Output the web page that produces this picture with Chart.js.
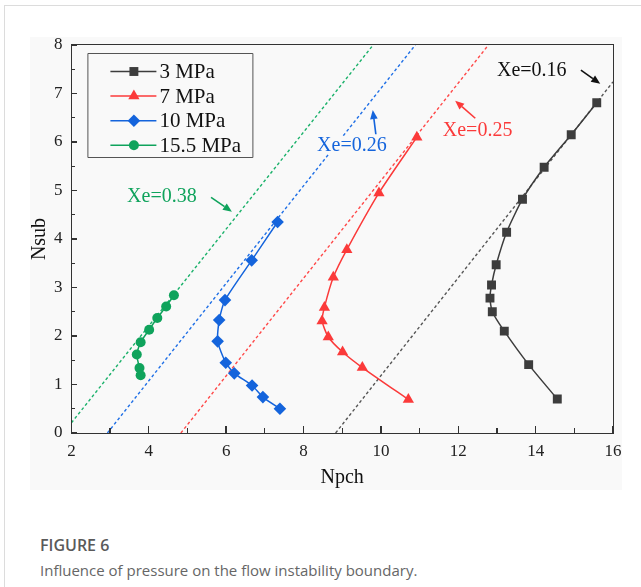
<!DOCTYPE html>
<html>
<head>
<meta charset="utf-8">
<script src="https://cdn.jsdelivr.net/npm/chart.js@4.4.0/dist/chart.umd.min.js"></script>
<style>
  body { margin: 0; background: #fff; width: 641px; height: 587px; overflow: hidden; position: relative; }
  #card { position: absolute; left: 4px; top: 5px; right: 0; bottom: 0; border-top: 1px solid #dcdcdc; border-left: 1px solid #dcdcdc; }
  #wrap { position: absolute; left: 30px; top: 37px; width: 592px; height: 453px; background: #f9f9f9; }
  #wrap canvas { position: absolute; left: 0; top: 0; }
  #frame { position: absolute; box-sizing: border-box; border: 1.6px solid #333; pointer-events: none; }
  .tick { position: absolute; background: #333; }
  .cap { position: absolute; left: 40px; font-family: "Open Sans", sans-serif; color: #5a5a5a; white-space: nowrap; }
</style>
</head>
<body>
<div id="card"></div>
<div id="wrap"><canvas id="chart" width="592" height="453"></canvas><div id="frame"></div></div>
<div class="cap" style="top:535px;font-size:16px;line-height:20px;font-weight:600;">FIGURE 6</div>
<div class="cap" style="top:560px;font-size:15px;line-height:20px;color:#666;">Influence of pressure on the flow instability boundary.</div>
<script>
// series (Npch, Nsub)
const seriesNames = ['3 MPa', '7 MPa', '10 MPa', '15.5 MPa'];
const p3x = [15.58, 14.92, 14.22, 13.66, 13.25, 12.98, 12.86, 12.82, 12.88, 13.19, 13.82, 14.56];
const p3y = [6.81, 6.15, 5.48, 4.82, 4.14, 3.47, 3.05, 2.78, 2.50, 2.10, 1.41, 0.70];
const p7x = [10.93, 9.95, 9.12, 8.77, 8.54, 8.48, 8.64, 9.01, 9.52, 10.71];
const p7y = [6.10, 4.95, 3.78, 3.21, 2.59, 2.31, 1.98, 1.67, 1.35, 0.69];
const p10x = [7.33, 6.66, 5.97, 5.82, 5.78, 5.99, 6.21, 6.67, 6.95, 7.39];
const p10y = [4.35, 3.56, 2.74, 2.33, 1.89, 1.45, 1.23, 0.98, 0.74, 0.50];
const p155x = [4.65, 4.45, 4.22, 4.01, 3.79, 3.69, 3.76, 3.79];
const p155y = [2.84, 2.61, 2.37, 2.13, 1.87, 1.62, 1.34, 1.19];

// constant quality lines (end points)
const xe016x = [8.83, 16], xe016y = [0, 7.24];
const xe025x = [4.83, 12.78], xe025y = [0, 8];
const xe026x = [2.93, 10.89], xe026y = [0, 8];
const xe038x = [2, 9.8], xe038y = [0.21, 8];

// annotations: label, text position, arrow tail, arrow head
const noteText = ['Xe=0.16', 'Xe=0.25', 'Xe=0.26', 'Xe=0.38'];
const noteX = [13.90, 12.50, 9.25, 4.34];
const noteY = [7.48, 6.25, 5.94, 4.89];
const arrowFromX = [15.17, 12.44, 9.87, 5.61];
const arrowFromY = [7.48, 6.49, 6.16, 4.86];
const arrowToX = [15.67, 11.92, 9.79, 6.15];
const arrowToY = [7.20, 6.85, 6.66, 4.56];

// axis range and ticks
const xRange = [2, 16];
const yRange = [0, 8];
const xMajor = [2, 4, 6, 8, 10, 12, 14, 16];
const xMinor = [3, 5, 7, 9, 11, 13, 15];
const yMajor = [0, 1, 2, 3, 4, 5, 6, 7, 8];
const yMinor = [0.5, 1.5, 2.5, 3.5, 4.5, 5.5, 6.5, 7.5];

const colors = ['#3d3d3d', '#fb3a3a', '#1464dc', '#0fa35c'];
const dashColors = ['#555555', '#ff4848', '#1f6fe6', '#1ab16a'];
const pointStyles = ['rect', 'triangle', 'rectRot', 'circle'];
const pointSizes = [6.3, 6.5, 6.3, 5];

function pts(xs, ys) { return xs.map((x, i) => ({ x: x, y: ys[i] })); }

const serif = '"Liberation Serif", "Times New Roman", serif';

let datasets = [];
[[xe016x, xe016y], [xe025x, xe025y], [xe026x, xe026y], [xe038x, xe038y]].forEach((l, i) => {
  datasets.push({
    data: pts(l[0], l[1]),
    showLine: true,
    borderColor: dashColors[i],
    borderWidth: 1.4,
    borderDash: [3, 2.5],
    pointRadius: 0,
    order: 2
  });
});
[[p3x, p3y], [p7x, p7y], [p10x, p10y], [p155x, p155y]].forEach((s, i) => {
  datasets.push({
    label: seriesNames[i],
    data: pts(s[0], s[1]),
    showLine: true,
    tension: 0.2,
    borderColor: colors[i],
    backgroundColor: colors[i],
    borderWidth: 1.5,
    pointStyle: pointStyles[i],
    pointRadius: pointSizes[i],
    pointBorderWidth: 0,
    order: 1
  });
});

function drawNotes(chart) {
  const ctx = chart.ctx;
  const xs = chart.scales.x, ys = chart.scales.y;
  ctx.save();
  ctx.setLineDash([]);
  ctx.font = '20px ' + serif;
  ctx.textAlign = 'center';
  ctx.textBaseline = 'middle';
  noteText.forEach((t, i) => {
    const c = i === 0 ? '#111111' : colors[i];
    const tx = xs.getPixelForValue(noteX[i]), ty = ys.getPixelForValue(noteY[i]);
    const w = ctx.measureText(t).width;
    ctx.fillStyle = '#f9f9f9';
    ctx.fillRect(tx - w / 2 - 1, ty - 9, w + 2, 18);
    ctx.fillStyle = c;
    ctx.fillText(t, tx, ty + 1);
    const x0 = xs.getPixelForValue(arrowFromX[i]), y0 = ys.getPixelForValue(arrowFromY[i]);
    const x1 = xs.getPixelForValue(arrowToX[i]), y1 = ys.getPixelForValue(arrowToY[i]);
    const ang = Math.atan2(y1 - y0, x1 - x0);
    const hl = 9, hw = 3.8;
    const bx = x1 - hl * Math.cos(ang), by = y1 - hl * Math.sin(ang);
    ctx.strokeStyle = c;
    ctx.lineWidth = 1.6;
    ctx.beginPath();
    ctx.moveTo(x0, y0);
    ctx.lineTo(bx, by);
    ctx.stroke();
    ctx.beginPath();
    ctx.moveTo(x1, y1);
    ctx.lineTo(bx + hw * Math.sin(ang), by - hw * Math.cos(ang));
    ctx.lineTo(bx - hw * Math.sin(ang), by + hw * Math.cos(ang));
    ctx.closePath();
    ctx.fill();
  });
  ctx.restore();
}

function drawLegend(chart) {
  const ctx = chart.ctx;
  const left = chart.scales.x.left + 16, top = chart.scales.y.top + 8, w = 165, h = 104;
  ctx.save();
  ctx.setLineDash([]);
  ctx.strokeStyle = '#555555';
  ctx.lineWidth = 1;
  ctx.beginPath();
  ctx.rect(left + 0.5, top + 0.5, w, h);
  ctx.stroke();
  ctx.font = '21px ' + serif;
  ctx.textBaseline = 'middle';
  ctx.textAlign = 'left';
  seriesNames.forEach((n, i) => {
    const y = top + 18.5 + i * 24.6;
    ctx.strokeStyle = colors[i];
    ctx.fillStyle = colors[i];
    ctx.lineWidth = 1.5;
    ctx.beginPath();
    ctx.moveTo(left + 23, y);
    ctx.lineTo(left + 69, y);
    ctx.stroke();
    Chart.helpers.drawPoint(ctx, { pointStyle: pointStyles[i], radius: pointSizes[i], rotation: 0, borderWidth: 0 }, left + 46.5, y);
    ctx.fillStyle = '#111111';
    ctx.fillText(n, left + 72, y + 1);
  });
  ctx.restore();
}

const decor = {
  id: 'decor',
  afterDatasetsDraw(chart) {
    drawNotes(chart);
    drawLegend(chart);
  }
};

const chart = new Chart(document.getElementById('chart'), {
  type: 'scatter',
  data: { datasets: datasets },
  options: {
    responsive: false,
    animation: false,
    layout: { padding: { left: 0, top: 8, right: 9, bottom: 0 } },
    plugins: { legend: { display: false }, tooltip: { enabled: false } },
    scales: {
      x: {
        type: 'linear', min: xRange[0], max: xRange[1],
        afterFit: s => { s.height = 57; s.paddingLeft = 0; s.paddingRight = 0; },
        grid: { display: false, drawTicks: false },
        border: { display: false },
        ticks: { stepSize: 2, padding: 8, color: '#222', font: { family: serif, size: 17 } },
        title: { display: true, text: 'Npch', color: '#111', padding: { top: 0, bottom: 2 }, font: { family: serif, size: 20, lineHeight: 1 } }
      },
      y: {
        type: 'linear', min: yRange[0], max: yRange[1],
        afterFit: s => { s.width = 41.4; s.paddingTop = 0; s.paddingBottom = 0; },
        grid: { display: false, drawTicks: false },
        border: { display: false },
        ticks: { stepSize: 1, padding: 9, color: '#222', font: { family: serif, size: 17 } },
        title: { display: true, text: 'Nsub', color: '#111', padding: { top: 0, bottom: 0 }, font: { family: serif, size: 20, lineHeight: 1 } }
      }
    }
  },
  plugins: [decor]
});

// plot frame and inward ticks as overlay elements placed from the chart's scales
const wrap = document.getElementById('wrap');
const xs = chart.scales.x, ys = chart.scales.y;
const L = xs.getPixelForValue(xRange[0]), R = xs.getPixelForValue(xRange[1]);
const T = ys.getPixelForValue(yRange[1]), B = ys.getPixelForValue(yRange[0]);
const frame = document.getElementById('frame');
frame.style.left = (L - 0.8) + 'px';
frame.style.top = (T - 0.8) + 'px';
frame.style.width = (R - L + 1.6) + 'px';
frame.style.height = (B - T + 1.6) + 'px';

function addTick(x, y, w, h) {
  const d = document.createElement('div');
  d.className = 'tick';
  d.style.left = x + 'px';
  d.style.top = y + 'px';
  d.style.width = w + 'px';
  d.style.height = h + 'px';
  wrap.appendChild(d);
}
xMajor.forEach(v => addTick(xs.getPixelForValue(v) - 0.65, B - 7, 1.3, 7));
xMinor.forEach(v => addTick(xs.getPixelForValue(v) - 0.65, B - 5, 1.3, 5));
yMajor.forEach(v => addTick(L, ys.getPixelForValue(v) - 0.65, 6, 1.3));
yMinor.forEach(v => addTick(L, ys.getPixelForValue(v) - 0.65, 4, 1.3));
</script>
</body>
</html>
